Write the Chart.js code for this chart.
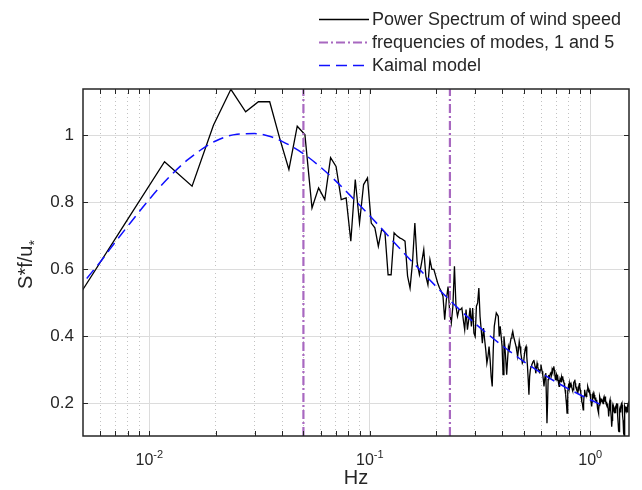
<!DOCTYPE html>
<html><head><meta charset="utf-8">
<script src="https://cdn.jsdelivr.net/npm/chart.js@4.4.0/dist/chart.umd.min.js"></script>
<style>html,body{margin:0;padding:0;background:#fff;}#wrap{width:642px;height:490px;}</style>
</head><body><div id="wrap"><canvas id="c" width="642" height="490"></canvas></div>
<script>
// ---------------- data ----------------
const seriesNames = ['Power Spectrum of wind speed', 'frequencies of modes, 1 and 5', 'Kaimal model'];
const binWidth = 1 / 256; // Hz, spectrum bin k sits at k*binWidth
const spectrum = [
0.43,0.74,0.921,0.848,1.03,1.137,1.07,1.10,1.10,0.99,
0.898,1.027,1.002,0.783,0.843,0.808,0.933,0.907,0.808,0.813,
0.684,0.868,0.738,0.853,0.873,0.738,0.724,0.669,0.72,0.71,
0.584,0.584,0.709,0.70,0.694,0.69,0.684,0.58,0.544,0.62,
0.738,0.62,0.584,0.62,0.659,0.58,0.554,0.629,0.60,0.60,
0.58,0.56,0.545,0.535,0.52,0.45,0.51,0.549,0.47,0.44,
0.49,0.609,0.49,0.46,0.48,0.48,0.485,0.45,0.42,0.48,
0.42,0.45,0.485,0.43,0.485,0.41,0.40,0.49,0.50,0.544,
0.46,0.42,0.38,0.425,0.39,0.36,0.32,0.34,0.37,0.33,
0.28,0.251,0.36,0.43,0.45,0.47,0.465,0.46,0.40,0.43,
0.40,0.37,0.286,0.40,0.37,0.33,0.286,0.33,0.37,0.36,
0.38,0.395,0.405,0.415,0.40,0.39,0.38,0.37,0.355,0.34,
0.36,0.385,0.37,0.35,0.335,0.32,0.325,0.33,0.35,0.365,
0.37,0.34,0.31,0.27,0.226,0.28,0.30,0.31,0.315,0.32,
0.325,0.33,0.32,0.31,0.29,0.305,0.32,0.31,0.30,0.30,
0.29,0.30,0.316,0.305,0.296,0.285,0.27,0.251,0.27,0.285,
0.291,0.22,0.141,0.20,0.271,0.285,0.275,0.281,0.29,0.295,
0.285,0.301,0.295,0.305,0.311,0.30,0.285,0.271,0.28,0.286,
0.27,0.286,0.27,0.26,0.251,0.262,0.275,0.271,0.265,0.278,
0.272,0.281,0.27,0.265,0.261,0.25,0.24,0.228,0.211,0.195,
0.171,0.21,0.235,0.251,0.245,0.26,0.25,0.256,0.248,0.256,
0.25,0.245,0.24,0.241,0.255,0.262,0.266,0.271,0.26,0.25,
0.246,0.24,0.25,0.238,0.231,0.24,0.25,0.255,0.261,0.25,
0.24,0.232,0.222,0.211,0.205,0.20,0.19,0.181,0.20,0.222,
0.235,0.241,0.23,0.225,0.228,0.221,0.23,0.24,0.245,0.251,
0.245,0.238,0.24,0.232,0.236,0.228,0.22,0.21,0.20,0.191,
0.205,0.22,0.226,0.231,0.222,0.215,0.225,0.221,0.215,0.21,
0.218,0.211,0.205,0.211,0.20,0.195,0.185,0.178,0.171,0.18,
0.195,0.21,0.221,0.215,0.21,0.205,0.211,0.215,0.211,0.205,
0.212,0.205,0.20,0.21,0.215,0.22,0.211,0.215,0.206,0.221,
0.212,0.20,0.205,0.195,0.201,0.19,0.20,0.195,0.185,0.175,
0.161,0.18,0.20,0.205,0.211,0.205,0.195,0.18,0.16,0.145,
0.131,0.15,0.175,0.191,0.185,0.19,0.18,0.191,0.185,0.178,
0.171,0.18,0.171,0.185,0.19,0.195,0.201,0.19,0.20,0.195,
0.18,0.165,0.14,0.125,0.118,0.116,0.14,0.165,0.181,0.175,
0.185,0.181,0.19,0.196,0.185,0.19,0.196,0.185,0.18,0.165,
0.15,0.135,0.12,0.111,0.105,0.14,0.17,0.191,0.185,0.19,
0.191,0.18,0.175,0.185,0.19,0.181,0.175,0.181,0.19,0.195,
0.20,0.19,0.201,0.195
];
const modeFreqs = [0.05, 0.231];
const kaimalFreqs  = [0.0052,0.006,0.007,0.008,0.01,0.012,0.015,0.02,0.025,0.03,0.035,0.04,0.05,0.06,0.07,0.08,0.1,0.12,0.15,0.2,0.25,0.3,0.4,0.5,0.6,0.7,0.8,1.0,1.17];
const kaimalValues = [0.573,0.623,0.681,0.730,0.809,0.868,0.928,0.983,1.003,1.005,0.997,0.982,0.945,0.904,0.864,0.826,0.760,0.703,0.634,0.549,0.486,0.439,0.372,0.325,0.291,0.264,0.243,0.211,0.191];
const xRange = [0.005, 1.5];
const yRange = [0.103, 1.138];
const xMajorTicks = [0.01, 0.1, 1];
const xTickBases = ['10', '10', '10'];
const xTickExponents = ['-2', '-1', '0'];
const xMinorTicks = [0.006,0.007,0.008,0.009,0.02,0.03,0.04,0.05,0.06,0.07,0.08,0.09,0.2,0.3,0.4,0.5,0.6,0.7,0.8,0.9];
const yTicks = [0.2, 0.4, 0.6, 0.8, 1];
const yTickLabels = ['0.2', '0.4', '0.6', '0.8', '1'];
const yTitleMain = 'S*f/u';
const yTitleSub = '*';
const xTitle = 'Hz';

// ---------------- styling ----------------
const FONT = "'Liberation Sans', Arial, Helvetica, sans-serif";
const TXT = '#262626';
Chart.defaults.font.family = FONT;

const specData = spectrum.map((v, i) => ({x: (i + 1) * binWidth, y: v}));
const modeData = [];
modeFreqs.forEach((f, i) => {
  if (i > 0) modeData.push({x: (modeFreqs[i - 1] + f) / 2, y: null});
  modeData.push({x: f, y: yRange[0]}, {x: f, y: yRange[1]});
});
const kaimalData = kaimalFreqs.map((f, i) => ({x: f, y: kaimalValues[i]}));

const decor = {
  id: 'decor',
  afterDatasetsDraw(chart) {
    const {ctx, chartArea: a} = chart;
    const xs = chart.scales.x, ys = chart.scales.y;
    ctx.save();
    ctx.strokeStyle = TXT;
    ctx.lineWidth = 1;
    const tl = 5;
    [...xMajorTicks, ...xMinorTicks].forEach(v => {
      const px = Math.round(xs.getPixelForValue(v)) + 0.5;
      ctx.beginPath();
      ctx.moveTo(px, a.bottom); ctx.lineTo(px, a.bottom - tl);
      ctx.moveTo(px, a.top); ctx.lineTo(px, a.top + tl);
      ctx.stroke();
    });
    yTicks.forEach(v => {
      const py = Math.round(ys.getPixelForValue(v)) + 0.5;
      ctx.beginPath();
      ctx.moveTo(a.left, py); ctx.lineTo(a.left + tl, py);
      ctx.moveTo(a.right, py); ctx.lineTo(a.right - tl, py);
      ctx.stroke();
    });
    ctx.lineWidth = 1.5;
    ctx.strokeRect(a.left, a.top, a.right - a.left, a.bottom - a.top);
    ctx.restore();
  },
  afterDraw(chart) {
    const {ctx, chartArea: a} = chart;
    const xs = chart.scales.x;
    ctx.save();
    ctx.fillStyle = TXT;
    ctx.textBaseline = 'alphabetic';
    ctx.textAlign = 'left';
    xMajorTicks.forEach((v, i) => {
      const px = xs.getPixelForValue(v);
      ctx.font = '16px ' + FONT;
      const w1 = ctx.measureText(xTickBases[i]).width;
      ctx.font = '11px ' + FONT;
      const w2 = ctx.measureText(xTickExponents[i]).width;
      const x0 = px - (w1 + w2) / 2;
      ctx.font = '16px ' + FONT;
      ctx.fillText(xTickBases[i], x0, 465);
      ctx.font = '11px ' + FONT;
      ctx.fillText(xTickExponents[i], x0 + w1, 458);
    });
    ctx.save();
    ctx.translate(32, (a.top + a.bottom) / 2 + 2);
    ctx.rotate(-Math.PI / 2);
    ctx.font = '20px ' + FONT;
    const t1 = ctx.measureText(yTitleMain).width;
    ctx.font = '14px ' + FONT;
    const t2 = ctx.measureText(yTitleSub).width;
    ctx.font = '20px ' + FONT;
    ctx.fillText(yTitleMain, -(t1 + t2) / 2, 0);
    ctx.font = '14px ' + FONT;
    ctx.fillText(yTitleSub, -(t1 + t2) / 2 + t1, 7);
    ctx.restore();
    const rows = [19.5, 42.5, 65.5];
    const ds = chart.data.datasets;
    ctx.font = '18px ' + FONT;
    ctx.textBaseline = 'middle';
    [0, 1, 2].forEach((di, r) => {
      const d = ds[di];
      ctx.save();
      ctx.strokeStyle = d.borderColor;
      ctx.lineWidth = d.borderWidth;
      ctx.setLineDash(d.borderDash || []);
      ctx.beginPath();
      ctx.moveTo(319, rows[r]); ctx.lineTo(369, rows[r]);
      ctx.stroke();
      ctx.restore();
      ctx.fillStyle = TXT;
      ctx.fillText(d.label, 372, rows[r] + 1);
    });
    ctx.restore();
  }
};

new Chart(document.getElementById('c'), {
  type: 'line',
  data: {
    datasets: [
      {label: seriesNames[0], data: specData, borderColor: '#000000', borderWidth: 1.3,
       pointRadius: 0, tension: 0, clip: 0, order: 2, xAxisID: 'x', yAxisID: 'y'},
      {label: seriesNames[1], data: modeData, borderColor: 'rgb(168,104,192)', borderWidth: 2.2,
       borderDash: [9, 3, 2, 3], pointRadius: 0, spanGaps: false, clip: 0, order: 1, xAxisID: 'x', yAxisID: 'y'},
      {label: seriesNames[2], data: kaimalData, borderColor: '#1010ff', borderWidth: 1.5,
       borderDash: [11, 6], pointRadius: 0, cubicInterpolationMode: 'monotone', clip: 0, order: 0, xAxisID: 'x', yAxisID: 'y'}
    ]
  },
  options: {
    responsive: false,
    maintainAspectRatio: false,
    animation: false,
    devicePixelRatio: 1,
    layout: {padding: {top: 89, right: 13, bottom: 0, left: 0}},
    plugins: {legend: {display: false}, tooltip: {enabled: false}},
    scales: {
      x: {
        type: 'logarithmic', position: 'bottom', min: xRange[0], max: xRange[1],
        afterBuildTicks: s => { s.ticks = xMajorTicks.map(v => ({value: v, major: true})); },
        afterFit: s => { s.height = 54; },
        grid: {color: '#dcdcdc', lineWidth: 1, drawTicks: false},
        border: {display: false},
        ticks: {display: false},
        title: {display: true, text: xTitle, color: TXT, font: {size: 20, family: FONT}, padding: {top: 0, bottom: 0}}
      },
      xMinor: {
        type: 'logarithmic', position: 'bottom', min: xRange[0], max: xRange[1],
        afterBuildTicks: s => { s.ticks = xMinorTicks.map(v => ({value: v})); },
        afterFit: s => { s.height = 0; },
        grid: {color: '#c2c2c2', lineWidth: 1, drawTicks: false},
        border: {display: false, dash: [1, 3]},
        ticks: {display: false}
      },
      y: {
        type: 'linear', min: yRange[0], max: yRange[1],
        afterBuildTicks: s => { s.ticks = yTicks.map(v => ({value: v})); },
        afterFit: s => { s.width = 83; },
        grid: {color: '#dcdcdc', lineWidth: 1, drawTicks: false},
        border: {display: false},
        ticks: {color: TXT, font: {size: 17, family: FONT}, padding: 9,
                callback: (v) => yTickLabels[yTicks.indexOf(v)]}
      }
    }
  },
  plugins: [decor]
});
</script></body></html>
